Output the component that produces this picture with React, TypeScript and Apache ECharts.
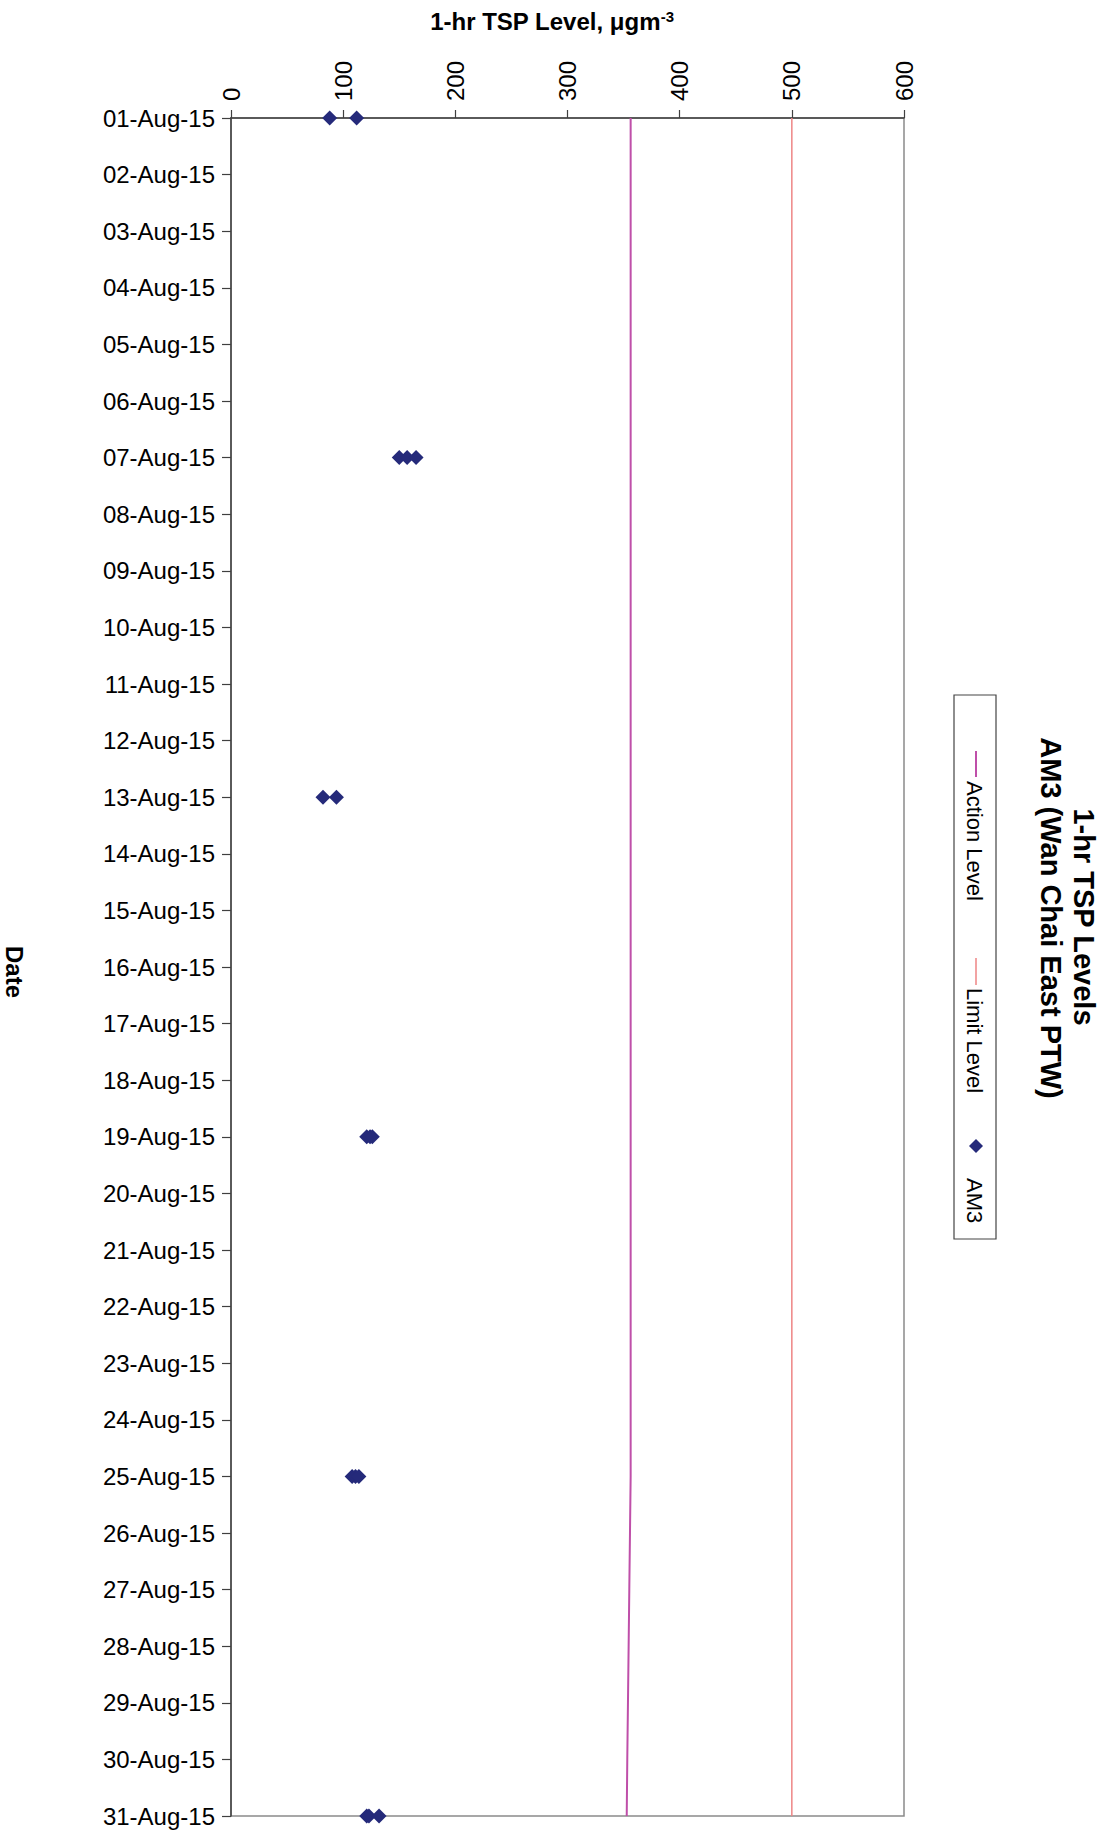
import React, { useEffect, useRef } from "react";
import * as echarts from "echarts";

const categories = [
  "01-Aug-15", "02-Aug-15", "03-Aug-15", "04-Aug-15", "05-Aug-15", "06-Aug-15",
  "07-Aug-15", "08-Aug-15", "09-Aug-15", "10-Aug-15", "11-Aug-15", "12-Aug-15",
  "13-Aug-15", "14-Aug-15", "15-Aug-15", "16-Aug-15", "17-Aug-15", "18-Aug-15",
  "19-Aug-15", "20-Aug-15", "21-Aug-15", "22-Aug-15", "23-Aug-15", "24-Aug-15",
  "25-Aug-15", "26-Aug-15", "27-Aug-15", "28-Aug-15", "29-Aug-15", "30-Aug-15",
  "31-Aug-15",
];

const actionLevel = [
  356.3, 356.3, 356.3, 356.3, 356.3, 356.3, 356.3, 356.3, 356.3, 356.3,
  356.3, 356.3, 356.3, 356.3, 356.3, 356.3, 356.3, 356.3, 356.3, 356.3,
  356.3, 356.3, 356.3, 356.3, 356.3, 355.7, 355.1, 354.5, 353.9, 353.3,
  352.8,
];

const limitLevel = [
  500, 500, 500, 500, 500, 500, 500, 500, 500, 500,
  500, 500, 500, 500, 500, 500, 500, 500, 500, 500,
  500, 500, 500, 500, 500, 500, 500, 500, 500, 500,
  500,
];

const am3Dates = [
  "01-Aug-15", "01-Aug-15",
  "07-Aug-15", "07-Aug-15", "07-Aug-15",
  "13-Aug-15", "13-Aug-15",
  "19-Aug-15", "19-Aug-15", "19-Aug-15",
  "25-Aug-15", "25-Aug-15", "25-Aug-15",
  "31-Aug-15", "31-Aug-15", "31-Aug-15",
];
const am3Values = [
  88, 112,
  150, 157, 165,
  82, 94,
  121, 124, 126,
  108, 111, 114,
  121, 123, 132,
];

const valueTicks = [0, 100, 200, 300, 400, 500, 600];

const FONT = "'Liberation Sans', Arial, Helvetica, sans-serif";
const ACTION_COLOR = "#BF4FA9";
const LIMIT_COLOR = "#EE8585";
const AM3_COLOR = "#252A7A";

export default function App() {
  const ref = useRef<HTMLDivElement>(null);

  useEffect(() => {
    if (!ref.current) return;
    const chart = echarts.init(ref.current, undefined, { renderer: "svg" });
    const R = -Math.PI / 2;

    const option: any = {
      animation: false,
      backgroundColor: "#ffffff",
      textStyle: { fontFamily: FONT },
      grid: {
        left: 231,
        top: 118,
        width: 673,
        height: 1698,
        show: true,
        borderColor: "#8a8a8a",
        borderWidth: 1.5,
        backgroundColor: "transparent",
        containLabel: false,
      },
      xAxis: {
        type: "value",
        position: "top",
        min: valueTicks[0],
        max: valueTicks[valueTicks.length - 1],
        interval: 100,
        axisLine: { show: true, lineStyle: { color: "#404040", width: 1.5 } },
        axisTick: { show: true, inside: false, length: 8, lineStyle: { color: "#404040", width: 1.2 } },
        axisLabel: {
          rotate: -90,
          margin: 17,
          fontSize: 24,
          color: "#000",
          fontFamily: FONT,
        },
        splitLine: { show: false },
      },
      yAxis: {
        type: "category",
        data: categories,
        inverse: true,
        boundaryGap: false,
        axisLine: { show: true, lineStyle: { color: "#404040", width: 1.5 } },
        axisTick: { show: true, inside: false, length: 9, alignWithLabel: true, lineStyle: { color: "#404040", width: 1.2 } },
        axisLabel: {
          margin: 16,
          fontSize: 24,
          color: "#000",
          fontFamily: FONT,
          interval: 0,
        },
        splitLine: { show: false },
      },
      series: [
        {
          name: "Action Level",
          type: "line",
          data: categories.map((d, i) => [actionLevel[i], d]),
          showSymbol: false,
          symbol: "none",
          lineStyle: { color: ACTION_COLOR, width: 2 },
          itemStyle: { color: ACTION_COLOR },
          z: 2,
        },
        {
          name: "Limit Level",
          type: "line",
          data: categories.map((d, i) => [limitLevel[i], d]),
          showSymbol: false,
          symbol: "none",
          lineStyle: { color: LIMIT_COLOR, width: 1.5 },
          itemStyle: { color: LIMIT_COLOR },
          z: 2,
        },
        {
          name: "AM3",
          type: "scatter",
          data: am3Dates.map((d, i) => [am3Values[i], d]),
          symbol: "diamond",
          symbolSize: 15,
          itemStyle: { color: AM3_COLOR, opacity: 1 },
          z: 5,
        },
      ],
      graphic: [
        {
          type: "text",
          x: 552,
          y: 21,
          style: {
            text: "{a|1-hr TSP Level, μgm}{b|-3}",
            align: "center",
            verticalAlign: "middle",
            fill: "#000",
            rich: {
              a: { fontSize: 24, fontWeight: "bold", fontFamily: FONT, fill: "#000", verticalAlign: "bottom" },
              b: { fontSize: 15, fontWeight: "bold", fontFamily: FONT, fill: "#000", verticalAlign: "top" },
            },
          },
        },
        {
          type: "text",
          x: 14,
          y: 972,
          rotation: R,
          style: {
            text: "Date",
            fontSize: 24,
            fontWeight: "bold",
            fontFamily: FONT,
            fill: "#000",
            align: "center",
            verticalAlign: "middle",
          },
        },
        {
          type: "text",
          x: 1084,
          y: 917,
          rotation: R,
          style: {
            text: "1-hr TSP Levels",
            fontSize: 29,
            fontWeight: "bold",
            fontFamily: FONT,
            fill: "#000",
            align: "center",
            verticalAlign: "middle",
          },
        },
        {
          type: "text",
          x: 1051,
          y: 918,
          rotation: R,
          style: {
            text: "AM3 (Wan Chai East PTW)",
            fontSize: 29,
            fontWeight: "bold",
            fontFamily: FONT,
            fill: "#000",
            align: "center",
            verticalAlign: "middle",
          },
        },
        {
          type: "rect",
          shape: { x: 954, y: 695, width: 42, height: 544 },
          style: { fill: "#fff", stroke: "#444", lineWidth: 1.2 },
        },
        {
          type: "line",
          shape: { x1: 976, y1: 751, x2: 976, y2: 777 },
          style: { stroke: ACTION_COLOR, lineWidth: 2 },
        },
        {
          type: "text",
          x: 974,
          y: 781,
          rotation: R,
          style: {
            text: "Action Level",
            fontSize: 22,
            fontFamily: FONT,
            fill: "#000",
            align: "left",
            verticalAlign: "middle",
          },
        },
        {
          type: "line",
          shape: { x1: 976, y1: 958, x2: 976, y2: 985 },
          style: { stroke: LIMIT_COLOR, lineWidth: 1.5 },
        },
        {
          type: "text",
          x: 974,
          y: 988,
          rotation: R,
          style: {
            text: "Limit Level",
            fontSize: 22,
            fontFamily: FONT,
            fill: "#000",
            align: "left",
            verticalAlign: "middle",
          },
        },
        {
          type: "polygon",
          shape: { points: [[976, 1139], [983, 1146], [976, 1153], [969, 1146]] },
          style: { fill: AM3_COLOR },
        },
        {
          type: "text",
          x: 974,
          y: 1178,
          rotation: R,
          style: {
            text: "AM3",
            fontSize: 22,
            fontFamily: FONT,
            fill: "#000",
            align: "left",
            verticalAlign: "middle",
          },
        },
      ],
    };

    chart.setOption(option);
    return () => {
      chart.dispose();
    };
  }, []);

  return (
    <div
      ref={ref}
      style={{ position: "absolute", left: 0, top: 0, width: 1112, height: 1831 }}
    />
  );
}
